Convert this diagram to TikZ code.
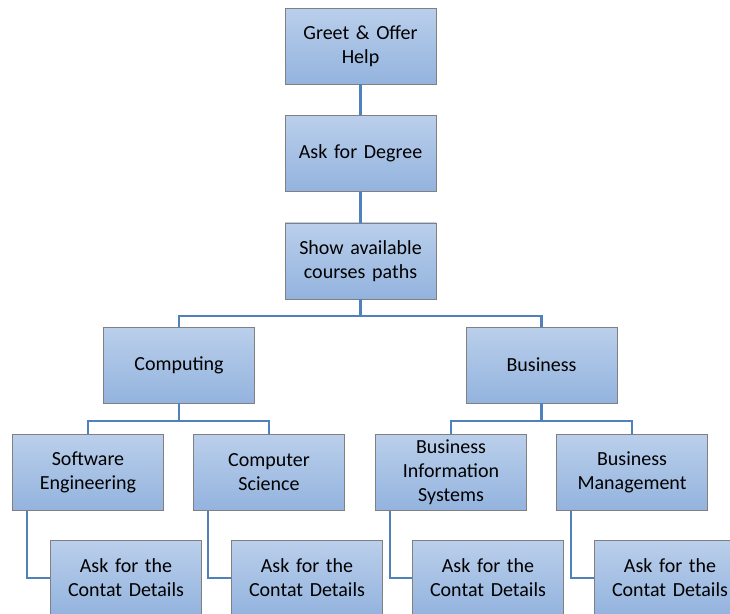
\documentclass[tikz,border=0pt]{standalone}
\usepackage{fontspec}
\setmainfont{Carlito}
\usepackage{xcolor}
\definecolor{boxtop}{RGB}{186,207,235}
\definecolor{boxbot}{RGB}{147,179,222}
\definecolor{boxedge}{RGB}{128,128,128}
\definecolor{linkblue}{RGB}{79,129,189}
\usetikzlibrary{positioning}

\begin{document}
\begin{tikzpicture}[x=1pt,y=1pt,
  node distance=31pt and 30pt,
  sbox/.style={rectangle,draw=boxedge,top color=boxtop,bottom color=boxbot,minimum width=151pt,minimum height=76pt,text width=145pt,align=center,inner sep=0pt,font=\fontsize{20}{24}\selectfont},
  link/.style={draw=linkblue,line width=2.2pt}
]
  \useasboundingbox (0,0) rectangle (730,-613);

  % Opening steps
  \node[sbox] (greet) at (360.5,-46) {Greet \& Offer\\Help};
  \node[sbox,below=of greet] (degree) {Ask for Degree};
  \node[sbox,below=of degree] (paths) {Show available\\courses paths};

  % Two schools
  \node[sbox] (comp) at (179,-365) {Computing};
  \node[sbox] (bus) at (541.5,-365) {Business};

  % Degree paths
  \node[sbox] (swe) at (88,-472.5) {Software\\Engineering};
  \node[sbox] (cs) at (269,-472.5) {Computer\\Science};
  \node[sbox] (bis) at (451,-472.5) {Business\\Information\\Systems};
  \node[sbox] (bm) at (632,-472.5) {Business\\Management};

  % Contact details
  \node[sbox] (ask1) at (126,-578) {Ask for the\\Contat Details};
  \node[sbox] (ask2) at (307,-578) {Ask for the\\Contat Details};
  \node[sbox] (ask3) at (488,-578) {Ask for the\\Contat Details};
  \node[sbox] (ask4) at (670,-578) {Ask for the\\Contat Details};

  % Links
  \draw[link] (greet) -- (degree);
  \draw[link] (degree) -- (paths);
  \draw[link] (paths.south) -- ++(0,-17) -| (comp.north);
  \draw[link] (paths.south) -- ++(0,-17) -| (bus.north);
  \draw[link] (comp.south) -- ++(0,-18) -| (swe.north);
  \draw[link] (comp.south) -- ++(0,-18) -| (cs.north);
  \draw[link] (bus.south) -- ++(0,-18) -| (bis.north);
  \draw[link] (bus.south) -- ++(0,-18) -| (bm.north);
  \draw[link] ([xshift=15pt]swe.south west) |- (ask1.west);
  \draw[link] ([xshift=15pt]cs.south west) |- (ask2.west);
  \draw[link] ([xshift=15pt]bis.south west) |- (ask3.west);
  \draw[link] ([xshift=15pt]bm.south west) |- (ask4.west);
\end{tikzpicture}
\end{document}
